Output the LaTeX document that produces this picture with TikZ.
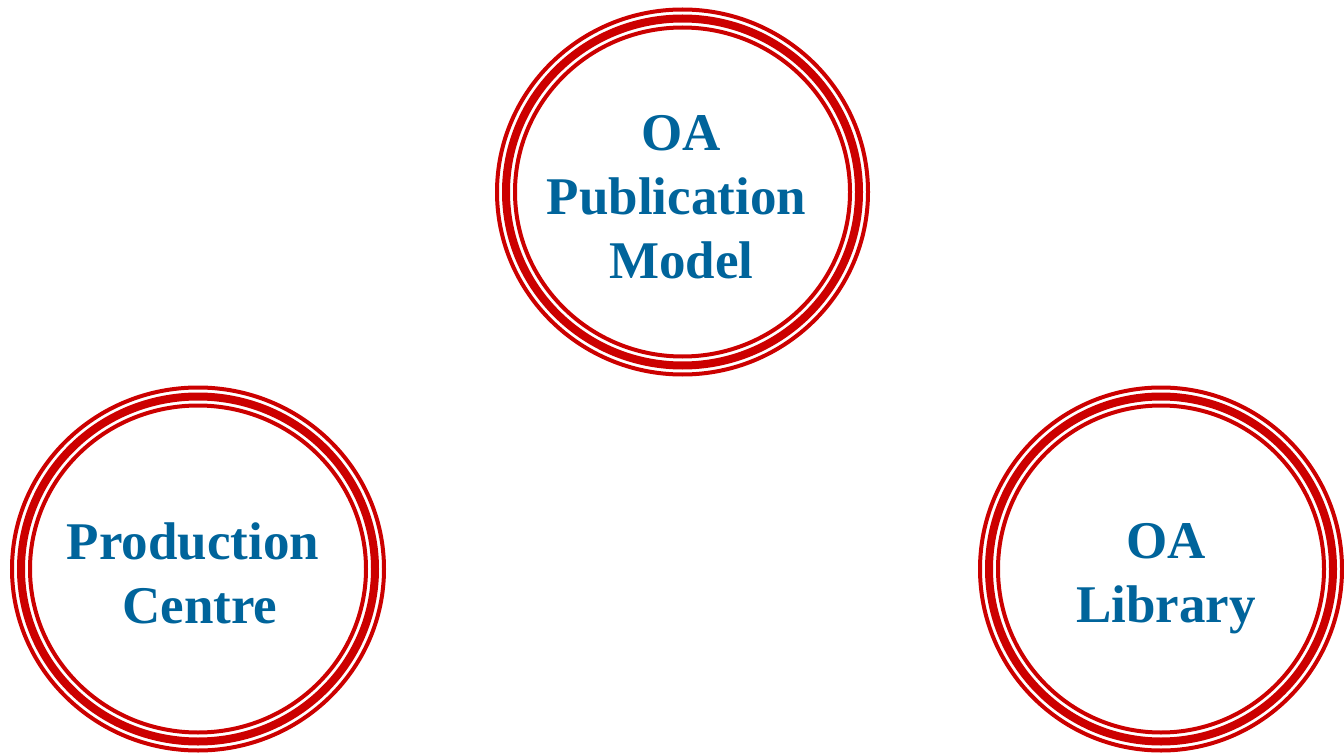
\documentclass[tikz,border=0pt]{standalone}
\usepackage{fontspec}
\setmainfont{Liberation Serif}
\usepackage{tikz}
\usetikzlibrary{calc}
\definecolor{ringred}{RGB}{204,0,0}
\definecolor{oablue}{RGB}{0,100,155}
\tikzset{ring/.style={ringred},lbl/.style={align=center,text=oablue,font=\fontsize{53}{64}\selectfont\bfseries,inner sep=0pt}}
\newcommand{\triplering}[3]{%
  \draw[ring,line width=4pt] (#1) ellipse ({#2-2} and {#3-2});
  \draw[ring,line width=8pt] (#1) ellipse ({#2-11} and {#3-11});
  \draw[ring,line width=4pt] (#1) ellipse ({#2-20} and {#3-20});
}
\begin{document}
\begin{tikzpicture}[x=1pt,y=-1pt]
  \useasboundingbox (0,0) rectangle (1344,754);
  \clip (0,0) rectangle (1344,754);
  \coordinate (cpub) at (682.5,192);
  \coordinate (cprod) at (198,569);
  \coordinate (clib) at (1161,569);
  \triplering{cpub}{187.5}{184.5}
  \triplering{cprod}{188}{183.5}
  \triplering{clib}{183}{183.5}
  \node[lbl] (pub) at ($(cpub)+(-1,5)$) {OA\\\hspace*{-10pt}Publication\\Model};
  \node[lbl] (prod) at ($(cprod)+(-5,4)$) {Production\\\hspace*{14pt}Centre};
  \node[lbl] (lib) at ($(clib)+(5,10)$) {OA\\Library};
\end{tikzpicture}
\end{document}
